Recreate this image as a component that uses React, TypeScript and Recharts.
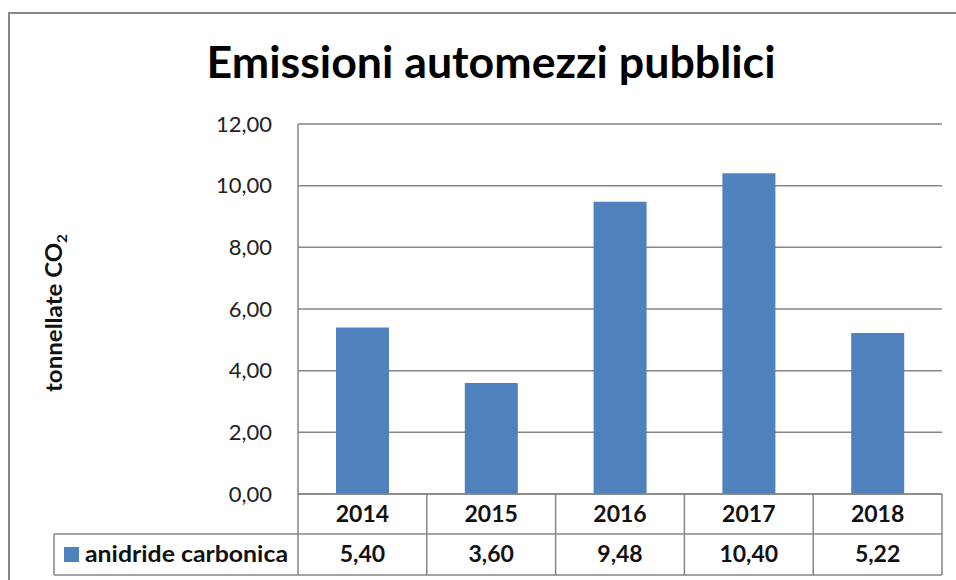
import { BarChart, Bar, XAxis, YAxis, CartesianGrid } from 'recharts';

const years = ['2014', '2015', '2016', '2017', '2018'];
const co2 = [5.4, 3.6, 9.48, 10.4, 5.22];
const yTicks = [0, 2, 4, 6, 8, 10, 12];
const seriesName = 'anidride carbonica';
const chartTitle = 'Emissioni automezzi pubblici';

const data = years.map((y, i) => ({ year: y, value: co2[i] }));

const FONT = 'Lato, "Open Sans", sans-serif';
const GRID = '#868686';
const BAR = '#4F81BD';
const PLOT_BOTTOM = 494;
const ROW1 = 534;
const ROW2 = 575;
const TABLE_LEFT = 54;

const fmt = (v: number) => v.toFixed(2).replace('.', ',');

function TableTick(props: any) {
    const { x, payload, index } = props;
    const half = payload && payload.offset ? payload.offset : 64.4;
    const left = x - half;
    const right = x + half;
    const n = years.length;
    const tableRight = left + 2 * half * (n - index);
    return (
        <g>
            {index === 0 && (
                <g>
                    <line x1={left} x2={tableRight} y1={PLOT_BOTTOM} y2={PLOT_BOTTOM} stroke={GRID} strokeWidth={1.5} />
                    <line x1={TABLE_LEFT} x2={tableRight} y1={ROW1} y2={ROW1} stroke={GRID} strokeWidth={1.5} />
                    <line x1={TABLE_LEFT} x2={tableRight} y1={ROW2} y2={ROW2} stroke={GRID} strokeWidth={1.5} />
                    <line x1={TABLE_LEFT} x2={TABLE_LEFT} y1={ROW1} y2={ROW2} stroke={GRID} strokeWidth={1.5} />
                    <rect x={64} y={547} width={15} height={15} fill={BAR} />
                    <text x={85} y={562} fontFamily={FONT} fontWeight={700} fontSize={23} fill="#111"
                        textLength={203} lengthAdjust="spacingAndGlyphs">{seriesName}</text>
                </g>
            )}
            <line x1={left} x2={left} y1={PLOT_BOTTOM} y2={ROW2} stroke={GRID} strokeWidth={1.5} />
            {index === n - 1 && (
                <line x1={right} x2={right} y1={PLOT_BOTTOM} y2={ROW2} stroke={GRID} strokeWidth={1.5} />
            )}
            <text x={x} y={522} textAnchor="middle" fontFamily={FONT} fontWeight={700} fontSize={23} fill="#111">
                {payload.value}
            </text>
            <text x={x} y={562} textAnchor="middle" fontFamily={FONT} fontWeight={700} fontSize={23} fill="#111">
                {fmt(co2[index])}
            </text>
        </g>
    );
}

function YLabel() {
    return (
        <text transform="translate(62, 313) rotate(-90)" textAnchor="middle" fontFamily={FONT}
            fontWeight={700} fontSize={22} fill="#111" textLength={158} lengthAdjust="spacingAndGlyphs">
            tonnellate CO<tspan fontSize={14} dy={5}>2</tspan>
        </text>
    );
}

export default function App() {
    return (
        <div style={{ position: 'absolute', left: 0, top: 0, width: 956, height: 580, overflow: 'hidden', background: '#fff' }}>
            <div style={{ position: 'absolute', left: 8, top: 12, width: 980, height: 620, border: '2px solid #888', boxSizing: 'border-box' }} />
            <div style={{ position: 'absolute', left: 0, top: 0 }}>
                <BarChart width={956} height={580} data={data} margin={{ top: 124, right: 14, bottom: 0, left: 0 }}>
                    <text x={491} y={78} textAnchor="middle" fontFamily={FONT} fontWeight={700} fontSize={44}
                        fill="#000" textLength={569} lengthAdjust="spacingAndGlyphs">{chartTitle}</text>
                    <CartesianGrid vertical={false} stroke={GRID} strokeWidth={1.5} />
                    <XAxis dataKey="year" height={86} axisLine={false} tickLine={false} tick={<TableTick />} interval={0} />
                    <YAxis width={298} domain={[0, 12]} ticks={yTicks} tickFormatter={fmt} tickLine={false}
                        tickMargin={20} axisLine={{ stroke: GRID, strokeWidth: 1.5 }}
                        tick={{ fill: '#222', fontSize: 22, fontFamily: FONT }}
                        label={<YLabel />} />
                    <Bar dataKey="value" fill={BAR} barSize={53} isAnimationActive={false} />
                </BarChart>
            </div>
        </div>
    );
}
